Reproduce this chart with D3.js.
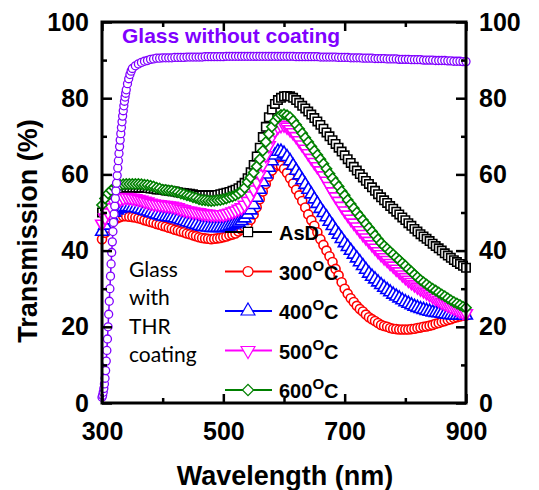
<!DOCTYPE html>
<html>
<head>
<meta charset="utf-8">
<script src="https://cdn.jsdelivr.net/npm/d3@7"></script>
<style>
  body { margin: 0; background: #fff; }
  svg { display: block; }
  text { font-family: "Liberation Sans", Arial, sans-serif; }
</style>
</head>
<body>
<svg id="chart" width="539" height="490"></svg>
<script>
// wavelength grid of the coated samples (nm), every 5 nm
var wavelength = d3.range(300, 901, 5);

// transmission (%), one row per 100 nm
var asd = [50, 51.7, 53, 54.2, 55, 55.6, 56, 56.3, 56.5, 56.5, 56.5, 56.5, 56.5, 56.5, 56.5, 56.4, 56.3, 56.2, 56, 56,
  56, 55.8, 55.7, 55.6, 55.5, 55.3, 55.2, 55.1, 55, 54.9, 54.8, 54.6, 54.5, 54.5, 54.5, 54.5, 54.5, 54.5, 54.6, 54.8,
  55, 55.2, 55.4, 55.7, 56, 56.4, 57, 57.8, 59, 60.6, 62.5, 64.7, 67, 69.8, 72.5, 75, 77, 78.5, 79.5, 80.1,
  80.5, 80.6, 80.5, 80.1, 79.5, 78.8, 78, 77.3, 76.5, 75.7, 74.8, 73.9, 73, 72, 71, 70, 69, 68, 67, 66,
  65, 64, 63, 62, 61, 60.1, 59.2, 58.3, 57.5, 56.6, 55.7, 54.8, 54, 53.2, 52.5, 51.7, 51, 50.2, 49.5, 48.7,
  48, 47.2, 46.5, 45.7, 45, 44.3, 43.7, 43.1, 42.5, 41.8, 41.2, 40.6, 40, 39.3, 38.7, 38.1, 37.5, 37, 36.5, 36,
  35.5];
var t300 = [43, 44.7, 46, 47.1, 48, 48.5, 48.8, 49, 49, 48.9, 48.8, 48.7, 48.5, 48.3, 48, 47.8, 47.5, 47.3, 47, 46.8,
  46.5, 46.3, 46, 45.8, 45.5, 45.3, 45, 44.8, 44.5, 44.3, 44, 43.8, 43.5, 43.3, 43.2, 43.1, 43, 43.1, 43.2, 43.3,
  43.5, 43.7, 44, 44.2, 44.5, 45, 45.5, 46.2, 47, 48.1, 49.5, 51.4, 53.5, 55.5, 57.5, 59.4, 61, 62, 62.5, 62.3,
  61.5, 60.4, 59, 57.6, 56, 54.5, 53, 51.3, 49.5, 48, 46.5, 44.8, 43, 41.5, 40, 38.5, 37, 35.2, 33.5, 31.7,
  30, 28.7, 27.5, 26.5, 25.5, 24.7, 24, 23.2, 22.5, 22, 21.5, 21, 20.5, 20.2, 20, 19.7, 19.5, 19.4, 19.3, 19.3,
  19.3, 19.3, 19.4, 19.5, 19.7, 19.8, 20, 20.1, 20.3, 20.5, 20.8, 21, 21.3, 21.5, 21.8, 22, 22.3, 22.5, 22.7, 22.9,
  23];
var t400 = [45, 46.6, 48, 49.1, 50, 50.6, 51, 51.3, 51.5, 51.4, 51.3, 51.2, 51, 50.8, 50.5, 50.3, 50, 49.8, 49.5, 49.3,
  49, 48.9, 48.8, 48.7, 48.5, 48.3, 48, 47.8, 47.5, 47.3, 47, 46.8, 46.5, 46.3, 46.2, 46.1, 46, 46, 46, 46,
  46, 46.2, 46.4, 46.7, 47, 47.4, 47.8, 48.5, 49.5, 50.6, 52, 53.9, 56, 58, 60, 61.8, 63.5, 65, 66, 66,
  65.5, 64.6, 63.5, 62.3, 61, 59.8, 58.5, 57.3, 56, 54.8, 53.5, 52.3, 51, 49.9, 48.8, 47.6, 46.5, 45.3, 44.2, 43.1,
  42, 41, 40, 39, 38, 37, 36, 35, 34, 33.2, 32.5, 31.7, 31, 30.3, 29.7, 29.1, 28.5, 28, 27.5, 27,
  26.5, 26.1, 25.7, 25.3, 25, 24.7, 24.5, 24.2, 24, 23.8, 23.7, 23.6, 23.5, 23.3, 23.2, 23.1, 23, 23, 23, 23,
  23];
var t500 = [47, 48.6, 50, 51.3, 52.5, 53.1, 53.5, 53.8, 54, 53.9, 53.8, 53.7, 53.5, 53.3, 53, 52.8, 52.5, 52.3, 52.2, 52.1,
  52, 51.9, 51.8, 51.7, 51.5, 51.3, 51, 50.8, 50.5, 50.4, 50.2, 50.1, 50, 49.8, 49.7, 49.6, 49.5, 49.5, 49.5, 49.5,
  49.5, 49.7, 49.9, 50.2, 50.5, 50.9, 51.3, 52, 53, 54.4, 56, 57.9, 60, 62.5, 65, 67.6, 70, 71.5, 72.5, 72.9,
  73, 72.5, 71.8, 71, 70, 68.9, 67.8, 66.7, 65.5, 64.3, 63.2, 62.1, 61, 59.7, 58.3, 56.9, 55.5, 54.2, 53, 51.7,
  50.5, 49.4, 48.3, 47.3, 46.3, 45.3, 44.3, 43.4, 42.5, 41.6, 40.7, 39.8, 39, 38.2, 37.5, 36.7, 36, 35.2, 34.5, 33.7,
  33, 32.3, 31.7, 31.1, 30.5, 30, 29.5, 29, 28.5, 28, 27.5, 27, 26.5, 26.1, 25.7, 25.3, 25, 24.6, 24.2, 23.8,
  23.5];
var t600 = [52, 53.7, 55, 55.8, 56.5, 56.9, 57.2, 57.4, 57.5, 57.5, 57.5, 57.5, 57.5, 57.4, 57.3, 57.2, 57, 56.8, 56.5, 56.3,
  56, 55.9, 55.8, 55.7, 55.5, 55.3, 55, 54.8, 54.5, 54.3, 54, 53.8, 53.5, 53.3, 53.2, 53.1, 53, 53.1, 53.2, 53.3,
  53.5, 53.7, 54, 54.2, 54.5, 55, 55.5, 56.5, 58, 59.2, 60.5, 62.1, 64, 66.2, 68.5, 70.6, 72.5, 74, 75, 75.6,
  75.8, 75.5, 75, 74.1, 73, 71.9, 70.8, 69.6, 68.5, 67.3, 66.2, 65.1, 64, 62.8, 61.5, 60.2, 59, 57.9, 56.8, 55.6,
  54.5, 53.3, 52.2, 51.1, 50, 49, 48, 47, 46, 45, 44, 43, 42, 41.2, 40.5, 39.7, 39, 38.2, 37.5, 36.7,
  36, 35.2, 34.5, 33.7, 33, 32.3, 31.7, 31.1, 30.5, 30, 29.5, 29, 28.5, 28, 27.5, 27, 26.5, 26.1, 25.7, 25.3,
  25];

// bare glass: 1 nm on the absorption edge, then 2 nm, then 5 nm
var glassWl = d3.range(300, 341, 1).concat([342, 344, 346, 348]).concat(d3.range(350, 901, 5));
var glass = [1.5, 2, 2.8, 3.8, 5, 6.5, 8.5, 11, 13.8, 16.8, 20, 23.3, 26.7, 30, 33.3, 36.5, 39.5, 42.3, 45, 47.4,
  49.6, 51.7, 53.7, 55.7, 57.7, 59.7, 61.7, 63.6, 65.5, 67.3, 69, 70.7, 72.3, 73.8, 75.3, 76.7, 78, 79.2, 80.3, 81.3, 82.2,
  83.8, 85.1, 86.2, 87.1,
  87.8, 88.5, 89, 89.4, 89.7, 89.9, 90.2, 90.3, 90.5, 90.5,
  90.6, 90.6, 90.6, 90.6, 90.7, 90.7, 90.7, 90.7, 90.8, 90.8, 90.8, 90.8, 90.8, 90.8, 90.9, 90.9, 90.9, 90.9, 90.9, 90.9,
  90.9, 91, 91, 91, 91, 91, 91, 91, 91, 91, 91, 91, 91, 91, 91, 91, 91, 91, 91, 91,
  91, 91, 91, 91, 90.9, 90.9, 90.9, 90.9, 90.9, 90.9, 90.9, 90.9, 90.8, 90.8, 90.8, 90.8, 90.8, 90.8, 90.7, 90.7,
  90.7, 90.7, 90.6, 90.6, 90.6, 90.6, 90.5, 90.5, 90.5, 90.5, 90.4, 90.4, 90.4, 90.4, 90.3, 90.3, 90.3, 90.3, 90.2, 90.2,
  90.2, 90.2, 90.1, 90.1, 90.1, 90.1, 90, 90, 90, 90, 89.9, 89.9, 89.9, 89.9, 89.8, 89.8, 89.7, 89.7, 89.7, 89.6,
  89.6];

var seriesNames = ["AsD", "300", "400", "500", "600"];
var seriesColors = ["#000000", "#ff0000", "#0000ff", "#ff00ff", "#008000"];
var seriesValues = [asd, t300, t400, t500, t600];
var seriesShapes = ["square", "circle", "up", "down", "diamond"];

var xMajor = [300, 500, 700, 900];
var xMinor = [400, 600, 800];
var yMajor = [0, 20, 40, 60, 80, 100];
var yMinor = [10, 30, 50, 70, 90];

var svg = d3.select("#chart");
var plotL = 102, plotR = 466, plotT = 22, plotB = 403;

var x = d3.scaleLinear().domain([300, 900]).range([plotL, plotR]);
var y = d3.scaleLinear().domain([0, 100]).range([plotB, plotT]);

var shapeOf = function(name) {
  if (name == "circle") return d3.symbolCircle;
  if (name == "up" || name == "down") return d3.symbolTriangle;
  return d3.symbolSquare;
}
var rotOf = function(name) {
  if (name == "down") return 180;
  if (name == "diamond") return 45;
  return 0;
}
var sizeOf = function(name) {
  if (name == "diamond") return 52;
  if (name == "circle") return 64;
  return 70;
}
var lineGen = d3.line().x(function(d){ return x(d[0]) }).y(function(d){ return y(d[1]) });

// curves: line + dense open markers
seriesValues.forEach(function(vals, k) {
  var pts = wavelength.map(function(w, i) { return [w, vals[i]]; })
    .filter(function(d) { return d[1] != null; });
  var g = svg.append("g");
  g.append("path")
    .datum(pts)
    .attr("d", lineGen)
    .attr("fill", "none")
    .attr("stroke", seriesColors[k])
    .attr("stroke-width", 1.5);
  var sym = d3.symbol().type(shapeOf(seriesShapes[k])).size(sizeOf(seriesShapes[k]));
  g.selectAll("path.m")
    .data(pts)
    .enter()
    .append("path")
      .attr("class", "m")
      .attr("d", sym)
      .attr("transform", function(d){ return "translate(" + x(d[0]) + "," + y(d[1]) + ") rotate(" + rotOf(seriesShapes[k]) + ")" })
      .attr("fill", "#fff")
      .attr("stroke", seriesColors[k])
      .attr("stroke-width", 1.6);
});

// glass without coating on top
var gpts = glassWl.map(function(w, i) { return [w, glass[i]]; })
  .filter(function(d) { return d[1] != null; });
svg.append("path")
  .datum(gpts)
  .attr("d", lineGen)
  .attr("fill", "none")
  .attr("stroke", "#8000ff")
  .attr("stroke-width", 1.5);
svg.selectAll("circle.glass")
  .data(gpts)
  .enter()
  .append("circle")
    .attr("class", "glass")
    .attr("cx", function(d){ return x(d[0]) })
    .attr("cy", function(d){ return y(d[1]) })
    .attr("r", 4)
    .attr("fill", "#fff")
    .attr("stroke", "#8000ff")
    .attr("stroke-width", 1.3);

// axes: ticks point inward
var tickFont = function(g) {
  g.select(".domain").remove();
  g.selectAll("line").attr("stroke", "#000").attr("stroke-width", 2.5);
  g.selectAll("text").attr("font-size", 25).attr("font-weight", "bold").attr("fill", "#000");
}
svg.append("g").attr("transform", "translate(0," + plotB + ")")
  .call(d3.axisBottom(x).tickValues(xMajor).tickSize(-9).tickPadding(19).tickFormat(d3.format("d"))).call(tickFont);
svg.append("g").attr("transform", "translate(0," + plotB + ")")
  .call(d3.axisBottom(x).tickValues(xMinor).tickSize(-5).tickFormat("")).call(tickFont);
svg.append("g").attr("transform", "translate(0," + plotT + ")")
  .call(d3.axisTop(x).tickValues(xMajor).tickSize(-9).tickFormat("")).call(tickFont);
svg.append("g").attr("transform", "translate(0," + plotT + ")")
  .call(d3.axisTop(x).tickValues(xMinor).tickSize(-5).tickFormat("")).call(tickFont);
svg.append("g").attr("transform", "translate(" + plotL + ",0)")
  .call(d3.axisLeft(y).tickValues(yMajor).tickSize(-10).tickPadding(13)).call(tickFont);
svg.append("g").attr("transform", "translate(" + plotL + ",0)")
  .call(d3.axisLeft(y).tickValues(yMinor).tickSize(-5).tickFormat("")).call(tickFont);
svg.append("g").attr("transform", "translate(" + plotR + ",0)")
  .call(d3.axisRight(y).tickValues(yMajor).tickSize(-10).tickPadding(13)).call(tickFont);
svg.append("g").attr("transform", "translate(" + plotR + ",0)")
  .call(d3.axisRight(y).tickValues(yMinor).tickSize(-5).tickFormat("")).call(tickFont);

// frame
svg.append("rect")
  .attr("x", plotL).attr("y", plotT)
  .attr("width", plotR - plotL).attr("height", plotB - plotT)
  .attr("fill", "none").attr("stroke", "#000").attr("stroke-width", 3);

// axis titles
svg.append("text")
  .attr("x", (plotL + plotR) / 2 + 1).attr("y", 485)
  .attr("text-anchor", "middle")
  .attr("font-size", 27).attr("font-weight", "bold")
  .text("Wavelength (nm)");
svg.append("text")
  .attr("transform", "translate(37,231) rotate(-90)")
  .attr("text-anchor", "middle")
  .attr("font-size", 27).attr("font-weight", "bold")
  .text("Transmission (%)");

// labels inside the plot
svg.append("text")
  .attr("x", 122).attr("y", 43)
  .attr("font-size", 21).attr("font-weight", "bold")
  .attr("fill", "#8000ff")
  .text("Glass without coating");

var noteLines = ["Glass", "with", "THR", "coating"];
svg.selectAll("text.note")
  .data(noteLines)
  .enter()
  .append("text")
    .attr("class", "note")
    .attr("x", 129)
    .attr("y", function(d, i){ return 277 + i * 28.3 })
    .style("font-family", "Lato, 'Open Sans', sans-serif")
    .attr("font-size", 21)
    .text(function(d){ return d });

// legend
var legend = svg.append("g");
seriesNames.forEach(function(name, i) {
  var ly = 232 + i * 39.5;
  legend.append("line")
    .attr("x1", 225).attr("x2", 272).attr("y1", ly).attr("y2", ly)
    .attr("stroke", seriesColors[i]).attr("stroke-width", 2);
  var sym = d3.symbol().type(shapeOf(seriesShapes[i])).size(sizeOf(seriesShapes[i]) * 1.2);
  legend.append("path")
    .attr("d", sym)
    .attr("transform", "translate(248," + ly + ") rotate(" + rotOf(seriesShapes[i]) + ")")
    .attr("fill", "#fff").attr("stroke", seriesColors[i]).attr("stroke-width", 1.2);
  var t = legend.append("text")
    .attr("x", 279).attr("y", ly + 8)
    .attr("font-size", 20).attr("font-weight", "bold");
  if (name == "AsD") {
    t.text(name);
  } else {
    t.append("tspan").text(name);
    t.append("tspan").attr("dy", -9).attr("font-size", 15).text("O");
    t.append("tspan").attr("dy", 9).text("C");
  }
});
</script>
</body>
</html>
